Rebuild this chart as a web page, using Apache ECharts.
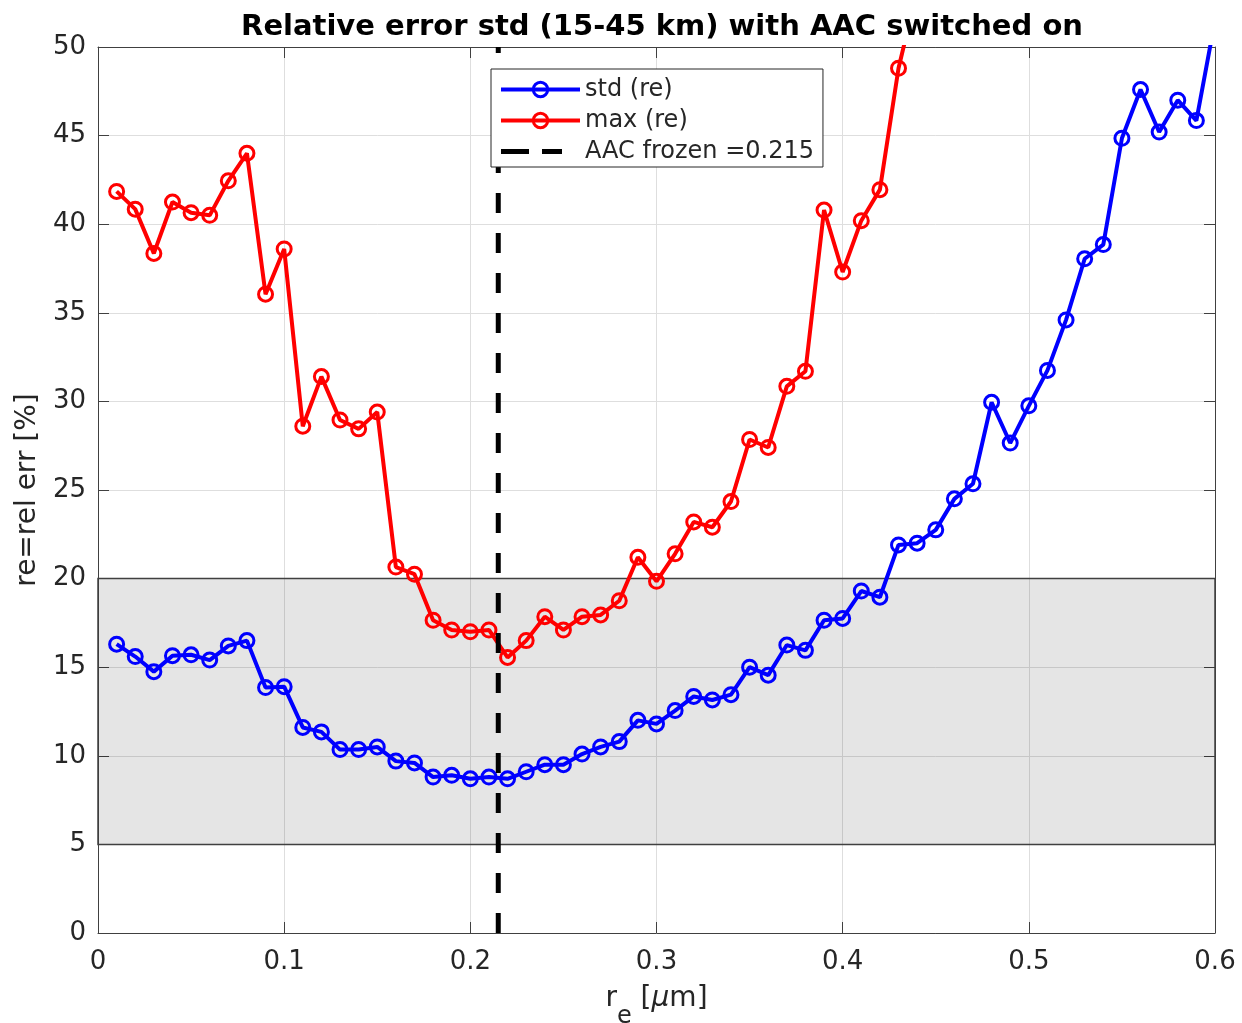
<!DOCTYPE html>
<html><head><meta charset="utf-8">
<script src="https://cdn.jsdelivr.net/npm/echarts@6/dist/echarts.min.js"></script>
<style>html,body{margin:0;padding:0;background:#fff;overflow:hidden}#c{width:1242px;height:1023px}</style>
</head><body><div id="c"></div>
<script>
// ---- data ----
const reValues = [0.01,0.02,0.03,0.04,0.05,0.06,0.07,0.08,0.09,0.10,
  0.11,0.12,0.13,0.14,0.15,0.16,0.17,0.18,0.19,0.20,
  0.21,0.22,0.23,0.24,0.25,0.26,0.27,0.28,0.29,0.30,
  0.31,0.32,0.33,0.34,0.35,0.36,0.37,0.38,0.39,0.40,
  0.41,0.42,0.43,0.44,0.45,0.46,0.47,0.48,0.49,0.50,
  0.51,0.52,0.53,0.54,0.55,0.56,0.57,0.58,0.59,0.60];
const stdValues = [16.3,15.6,14.75,15.65,15.7,15.4,16.2,16.5,13.85,13.9,
  11.6,11.35,10.35,10.35,10.5,9.7,9.6,8.8,8.9,8.7,
  8.8,8.7,9.1,9.5,9.5,10.1,10.5,10.8,12.0,11.8,
  12.55,13.35,13.15,13.45,15.0,14.55,16.25,15.95,17.65,17.75,
  19.3,18.95,21.9,22.0,22.75,24.5,25.35,29.95,27.65,29.75,
  31.75,34.6,38.05,38.85,44.85,47.6,45.2,47.0,45.85,51.5];
const maxValues = [41.85,40.85,38.35,41.25,40.65,40.5,42.45,44.0,36.05,38.6,
  28.6,31.4,28.95,28.45,29.4,20.65,20.25,17.65,17.1,17.0,
  17.1,15.55,16.5,17.85,17.1,17.85,17.95,18.75,21.2,19.85,
  21.4,23.2,22.9,24.35,27.85,27.4,30.85,31.7,40.8,37.3,
  40.2,41.95,48.8,53.2];
const frozenRe = 0.215;
const bandRange = [5, 20];
const xTickLabels = ['0','0.1','0.2','0.3','0.4','0.5','0.6'];
const yTickLabels = ['0','5','10','15','20','25','30','35','40','45','50'];
const seriesNames = ['std (re)', 'max (re)', 'AAC frozen =0.215'];
const titleText = 'Relative error std (15-45 km) with AAC switched on';

// ---- chart ----
const FONT = 'DejaVu Sans';
const TXT = '#262626';
const AX = '#404040';
const BLUE = '#0000ff', RED = '#ff0000';
const chart = echarts.init(document.getElementById('c'));

const stdData = reValues.map((x, i) => [x, stdValues[i]]);
const maxData = maxValues.map((v, i) => [reValues[i], v]);

const xLabelFmt = v => xTickLabels[Math.round(v * 10)];
const yLabelFmt = v => yTickLabels[Math.round(v / 5)];

// legend icon for the dashed line: two dashes inside a 79x18 box
const dashIcon = 'path://M0,0L79,0M0,18L79,18M0,6.5H28V11.5H0ZM41,6.5H61V11.5H41Z';

function lineSeries(name, data, color) {
  return {
    name, type: 'line', data, z: 4, clip: true,
    symbol: 'circle', symbolSize: 14, showSymbol: true,
    lineStyle: { color, width: 4 },
    itemStyle: { color: 'rgba(255,255,255,0)', borderColor: color, borderWidth: 3 },
    emphasis: { disabled: true }
  };
}

chart.setOption({
  animation: false,
  backgroundColor: '#ffffff',
  title: {
    text: titleText, left: 657, top: 8, textAlign: 'center',
    textStyle: { fontFamily: FONT, fontSize: 29, fontWeight: 'bold', color: '#000' }
  },
  grid: { left: 98, right: 27, top: 47, bottom: 90, containLabel: false, outerBoundsMode: 'none' },
  legend: {
    z: 20, zlevel: 0,
    data: [
      { name: seriesNames[0], lineStyle: { width: 4 }, itemStyle: { borderWidth: 3 } },
      { name: seriesNames[1], lineStyle: { width: 4 }, itemStyle: { borderWidth: 3 } },
      { name: seriesNames[2], icon: dashIcon, itemStyle: { color: '#000', borderWidth: 0, opacity: 1 } }
    ],
    orient: 'vertical', left: 491, top: 69,
    padding: [8, 9, 3, 8], itemGap: 6, itemWidth: 79, itemHeight: 18,
    backgroundColor: '#fff', borderColor: '#262626', borderWidth: 1, borderRadius: 0,
    textStyle: { fontFamily: FONT, fontSize: 24, color: TXT, lineHeight: 25 },
    selectedMode: false
  },
  xAxis: [{
    type: 'value', min: 0, max: 0.6, interval: 0.1,
    name: '{n|r}{s|e}{n| [}{i|μ}{n|m]}', nameLocation: 'middle', nameGap: 52,
    nameTextStyle: {
      rich: {
        n: { fontFamily: FONT, fontSize: 28, color: TXT, verticalAlign: 'top', lineHeight: 32 },
        i: { fontFamily: FONT, fontSize: 28, color: TXT, fontStyle: 'italic', verticalAlign: 'top', lineHeight: 32 },
        s: { fontFamily: FONT, fontSize: 24, color: TXT, verticalAlign: 'bottom', lineHeight: 44 }
      }
    },
    axisLine: { show: true, lineStyle: { color: AX, width: 1 } },
    axisTick: { show: true, inside: true, length: 11, lineStyle: { color: AX } },
    axisLabel: { formatter: xLabelFmt, fontFamily: FONT, fontSize: 26, color: TXT, margin: 16 },
    splitLine: { show: true, lineStyle: { color: '#dedede', width: 1 } }
  }, {
    type: 'value', min: 0, max: 0.6, interval: 0.1, position: 'top',
    axisLine: { show: true, onZero: false, lineStyle: { color: AX, width: 1 } },
    axisTick: { show: true, inside: true, length: 11, lineStyle: { color: AX } },
    axisLabel: { show: false }, splitLine: { show: false }
  }],
  yAxis: [{
    type: 'value', min: 0, max: 50, interval: 5,
    name: 're=rel err [%]', nameLocation: 'middle', nameGap: 55,
    nameTextStyle: { fontFamily: FONT, fontSize: 28, color: TXT },
    axisLine: { show: true, lineStyle: { color: AX, width: 1 } },
    axisTick: { show: true, inside: true, length: 11, lineStyle: { color: AX } },
    axisLabel: { formatter: yLabelFmt, fontFamily: FONT, fontSize: 26, color: TXT, margin: 12 },
    splitLine: { show: true, lineStyle: { color: '#dedede', width: 1 } }
  }, {
    type: 'value', min: 0, max: 50, interval: 5, position: 'right',
    axisLine: { show: true, onZero: false, lineStyle: { color: AX, width: 1 } },
    axisTick: { show: true, inside: true, length: 11, lineStyle: { color: AX } },
    axisLabel: { show: false }, splitLine: { show: false }
  }],
  series: [
    {
      name: 'band', type: 'line', data: [], z: 1, silent: true,
      markArea: {
        silent: true,
        itemStyle: { color: 'rgba(0,0,0,0.1)', borderColor: '#404040', borderWidth: 1.5 },
        data: [[{ xAxis: 0, yAxis: bandRange[0] }, { xAxis: 0.6, yAxis: bandRange[1] }]]
      }
    },
    lineSeries(seriesNames[0], stdData, BLUE),
    lineSeries(seriesNames[1], maxData, RED),
    {
      name: seriesNames[2], type: 'line', z: 5, symbol: 'none', showSymbol: false,
      data: [[frozenRe, 0], [frozenRe, 50]],
      lineStyle: { color: '#000', width: 5, type: [20, 20] },
      itemStyle: { color: '#000' },
      emphasis: { disabled: true }
    }
  ]
});
</script>
</body></html>
